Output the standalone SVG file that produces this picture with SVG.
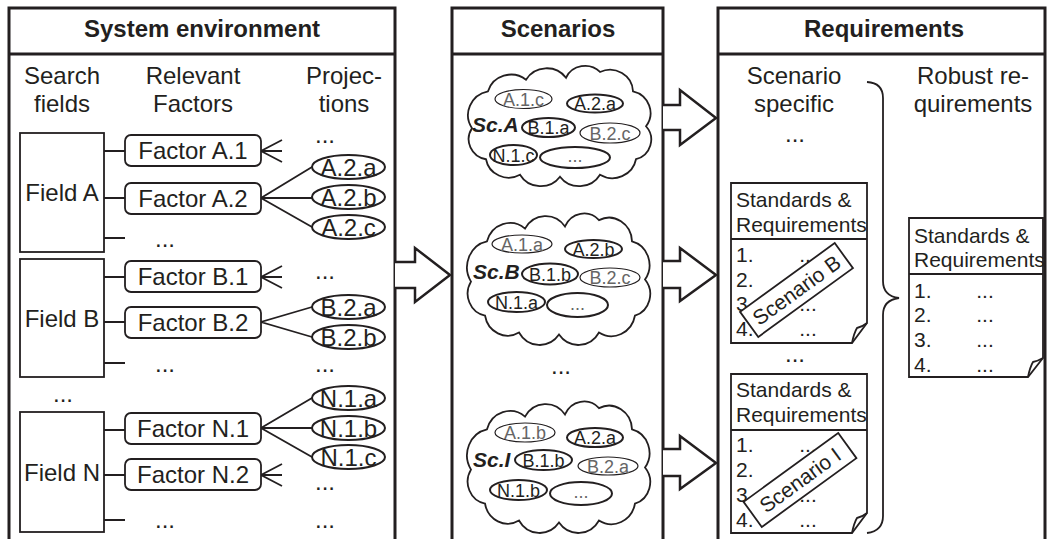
<svg xmlns="http://www.w3.org/2000/svg" width="1048" height="539" viewBox="0 0 1048 539">
<style>
text{font-family:"Liberation Sans",Arial,sans-serif;fill:#231f20}
.h{font-size:24px;font-weight:bold;text-anchor:middle}
.t{font-size:24px}
.m{text-anchor:middle}
.panel{fill:none;stroke:#231f20;stroke-width:3}
.box{fill:#fff;stroke:#231f20;stroke-width:1.8}
.ln{fill:none;stroke:#231f20;stroke-width:1.8}
.el{fill:#fff;stroke:#231f20;stroke-width:2}
.c{font-size:18px;text-anchor:middle}
.g{fill:#666}
.thin{stroke-width:1.2}
.sc{font-size:21px;font-weight:bold;font-style:italic}
.d{font-size:21px}
.arrow{fill:#fff;stroke:#231f20;stroke-width:2.5;stroke-linejoin:miter}
.cloud{fill:#fff;stroke:#231f20;stroke-width:1.8}
</style>
<defs>
<path id="cloudshape" d="M4,60 A25,25 0 0 1 20,22 A24,24 0 0 1 58,10 A24,24 0 0 1 98,8 A21,21 0 0 1 132,2 A23,23 0 0 1 165,22 A23,23 0 0 1 178,58 A21,21 0 0 1 168,92 A24,24 0 0 1 132,108 A24,24 0 0 1 92,110 A24,24 0 0 1 52,108 A23,23 0 0 1 18,92 A21,21 0 0 1 4,60 Z" vector-effect="non-scaling-stroke"/>
</defs>
<rect width="1048" height="539" fill="#fff"/>

<!-- Panels -->
<g id="panel-system">
<path class="panel" d="M9,539 V8 H395 V539 M9,54 H395"/>
<text class="h" x="202" y="37">System environment</text>
<text class="t m" x="62" y="84">Search</text>
<text class="t m" x="62" y="112">fields</text>
<text class="t m" x="193" y="84">Relevant</text>
<text class="t m" x="193" y="112">Factors</text>
<text class="t m" x="344" y="84">Projec-</text>
<text class="t m" x="344" y="112">tions</text>
</g>
<g id="panel-scenarios">
<path class="panel" d="M452,539 V8 H663 V539 M452,54 H663"/>
<text class="h" x="558" y="37">Scenarios</text>
<text class="t m" x="561" y="374">...</text>
</g>
<g id="panel-requirements">
<path class="panel" d="M718,539 V8 H1045 V539 M718,54 H1045"/>
<text class="h" x="884" y="37">Requirements</text>
<text class="t m" x="794" y="84">Scenario</text>
<text class="t m" x="794" y="112">specific</text>
<text class="t m" x="795" y="142">...</text>
<text class="t m" x="973" y="84">Robust re-</text>
<text class="t m" x="973" y="112">quirements</text>
<text class="t m" x="795" y="362">...</text>
</g>

<!-- Connectors -->
<g id="connectors">
<path class="ln" d="M104,151 H125 M104,198 H125 M104,238 H125"/>
<path class="ln" d="M104,277 H125 M104,322 H125 M104,363 H125"/>
<path class="ln" d="M104,430 H125 M104,475 H125 M104,520 H125"/>
<path class="ln" d="M282,140 L261,151 L282,162 M261,151 H282"/>
<path class="ln" d="M312,167 L261,198 L312,227 M261,198 H312"/>
<path class="ln" d="M282,266 L261,277 L282,288 M261,277 H282"/>
<path class="ln" d="M312,307 L261,322 L312,337"/>
<path class="ln" d="M312,398 L261,428 L312,457 M261,428 H312"/>
<path class="ln" d="M282,464 L261,475 L282,486 M261,475 H282"/>
<polyline class="arrow" points="395,262 415,262 415,248 450,275 415,302 415,288 395,288"/>
<polyline class="arrow" points="663,105 680,105 680,90 716,118 680,145 680,130 663,130"/>
<polyline class="arrow" points="663,261 680,261 680,248 716,275 680,301 680,288 663,288"/>
<polyline class="arrow" points="663,449 680,449 680,436 716,463 680,489 680,476 663,476"/>
<path class="ln" d="M867,82 Q883,83 883,98 V281 Q883,296 899,298 Q883,300 883,315 V516 Q883,531 867,533"/>
</g>

<!-- Search fields -->
<g id="field-a">
<rect class="box" x="20" y="133" width="84" height="119"/>
<text class="t m" x="62" y="201">Field A</text>
</g>
<g id="field-b">
<rect class="box" x="20" y="259" width="84" height="118"/>
<text class="t m" x="62" y="327">Field B</text>
</g>
<text class="t m" x="63" y="402">...</text>
<g id="field-n">
<rect class="box" x="20" y="412" width="84" height="120"/>
<text class="t m" x="62" y="481">Field N</text>
</g>

<!-- Factors -->
<g id="factor-a1"><rect class="box" x="125" y="135" width="136" height="31" rx="6"/><text class="t m" x="193" y="159">Factor A.1</text></g>
<g id="factor-a2"><rect class="box" x="125" y="183" width="136" height="31" rx="6"/><text class="t m" x="193" y="207">Factor A.2</text></g>
<text class="t m" x="165" y="247">...</text>
<g id="factor-b1"><rect class="box" x="125" y="261" width="136" height="31" rx="6"/><text class="t m" x="193" y="285">Factor B.1</text></g>
<g id="factor-b2"><rect class="box" x="125" y="307" width="136" height="31" rx="6"/><text class="t m" x="193" y="331">Factor B.2</text></g>
<text class="t m" x="165" y="372">...</text>
<g id="factor-n1"><rect class="box" x="125" y="413" width="136" height="31" rx="6"/><text class="t m" x="193" y="437">Factor N.1</text></g>
<g id="factor-n2"><rect class="box" x="125" y="459" width="136" height="31" rx="6"/><text class="t m" x="193" y="483">Factor N.2</text></g>
<text class="t m" x="165" y="528">...</text>

<!-- Projections -->
<text class="t m" x="325" y="143">...</text>
<g id="proj-a2a"><ellipse class="el" cx="348.5" cy="167" rx="36.5" ry="12"/><text class="t m" x="348.5" y="176">A.2.a</text></g>
<g id="proj-a2b"><ellipse class="el" cx="348.5" cy="197" rx="36.5" ry="12"/><text class="t m" x="348.5" y="206">A.2.b</text></g>
<g id="proj-a2c"><ellipse class="el" cx="348.5" cy="227" rx="36.5" ry="12"/><text class="t m" x="348.5" y="236">A.2.c</text></g>
<text class="t m" x="325" y="279">...</text>
<g id="proj-b2a"><ellipse class="el" cx="348.5" cy="307" rx="36.5" ry="12"/><text class="t m" x="348.5" y="316">B.2.a</text></g>
<g id="proj-b2b"><ellipse class="el" cx="348.5" cy="337" rx="36.5" ry="12"/><text class="t m" x="348.5" y="346">B.2.b</text></g>
<text class="t m" x="325" y="372">...</text>
<g id="proj-n1a"><ellipse class="el" cx="348.5" cy="398" rx="36.5" ry="12"/><text class="t m" x="348.5" y="407">N.1.a</text></g>
<g id="proj-n1b"><ellipse class="el" cx="348.5" cy="428" rx="36.5" ry="12"/><text class="t m" x="348.5" y="437">N.1.b</text></g>
<g id="proj-n1c"><ellipse class="el" cx="348.5" cy="457" rx="36.5" ry="12"/><text class="t m" x="348.5" y="466">N.1.c</text></g>
<text class="t m" x="325" y="490">...</text>
<text class="t m" x="325" y="528">...</text>

<!-- Scenario clouds -->
<g id="scenario-a">
<use href="#cloudshape" class="cloud" transform="translate(468,70) scale(1,0.97)"/>
<ellipse class="el thin" cx="523.5" cy="99" rx="28.5" ry="9.5"/><text class="c g" x="523.5" y="105.5">A.1.c</text>
<ellipse class="el" cx="595" cy="103.5" rx="28" ry="9"/><text class="c" x="595" y="110">A.2.a</text>
<text class="sc" x="472" y="132">Sc.A</text>
<ellipse class="el" cx="548.5" cy="127.5" rx="26.5" ry="9.5"/><text class="c" x="548.5" y="134">B.1.a</text>
<ellipse class="el thin" cx="610" cy="133" rx="30" ry="10"/><text class="c g" x="610" y="139.5">B.2.c</text>
<ellipse class="el" cx="513.5" cy="155" rx="23.5" ry="10"/><text class="c" x="513.5" y="161.5">N.1.c</text>
<ellipse class="el" cx="575" cy="157.5" rx="35" ry="10.5"/><text class="c g" x="575" y="162">...</text>
</g>
<g id="scenario-b">
<use href="#cloudshape" class="cloud" transform="translate(467,218) scale(1,1.06)"/>
<ellipse class="el thin" cx="522" cy="244" rx="30" ry="9"/><text class="c g" x="522" y="250.5">A.1.a</text>
<ellipse class="el" cx="593.5" cy="249" rx="28.5" ry="9"/><text class="c" x="593.5" y="255.5">A.2.b</text>
<text class="sc" x="473" y="279">Sc.B</text>
<ellipse class="el" cx="550" cy="274" rx="28" ry="10.5"/><text class="c" x="550" y="280.5">B.1.b</text>
<ellipse class="el thin" cx="610" cy="277.5" rx="30" ry="9.5"/><text class="c g" x="610" y="284">B.2.c</text>
<ellipse class="el" cx="516.5" cy="302" rx="28.5" ry="10"/><text class="c" x="516.5" y="308.5">N.1.a</text>
<ellipse class="el" cx="577.5" cy="305" rx="30.5" ry="12"/><text class="c g" x="577.5" y="309.5">...</text>
</g>
<g id="scenario-i">
<use href="#cloudshape" class="cloud" transform="translate(467,406) scale(1,1.06)"/>
<ellipse class="el thin" cx="525" cy="432.5" rx="30" ry="9.5"/><text class="c g" x="525" y="439">A.1.b</text>
<ellipse class="el" cx="595" cy="437.5" rx="28" ry="9.5"/><text class="c" x="595" y="444">A.2.a</text>
<text class="sc" x="473" y="467">Sc.I</text>
<ellipse class="el" cx="543.5" cy="460" rx="28.5" ry="10"/><text class="c" x="543.5" y="466.5">B.1.b</text>
<ellipse class="el thin" cx="608" cy="466" rx="30" ry="9"/><text class="c g" x="608" y="472.5">B.2.a</text>
<ellipse class="el" cx="518.5" cy="490" rx="28.5" ry="10"/><text class="c" x="518.5" y="496.5">N.1.b</text>
<ellipse class="el" cx="581" cy="493.5" rx="31" ry="11.5"/><text class="c g" x="581" y="498">...</text>
</g>

<!-- Requirement documents -->
<g id="doc-scenario-b">
<path class="box" d="M731,183 H867 V323 L852,343 H731 Z M731,239 H867"/>
<path class="ln" d="M852,343 Q854,333 857,328 Q862,327 867,323"/>
<text class="d" x="736" y="207">Standards &amp;</text>
<text class="d" x="736" y="232">Requirements</text>
<text class="d" x="736" y="262">1.</text><text class="d m" x="808" y="262">...</text>
<text class="d" x="736" y="287">2.</text><text class="d m" x="808" y="287">...</text>
<text class="d" x="736" y="311">3.</text><text class="d m" x="808" y="311">...</text>
<text class="d" x="736" y="336">4.</text><text class="d m" x="808" y="336">...</text>
<g transform="translate(796.5,290) rotate(-36)">
<rect x="-58.5" y="-15.5" width="117" height="31" fill="#fff" stroke="#231f20" stroke-width="1.8"/>
<text class="d m" x="0" y="7.5">Scenario B</text>
</g>
</g>
<g id="doc-scenario-i">
<path class="box" d="M731,374 H867 V513 L852,533 H731 Z M731,430 H867"/>
<path class="ln" d="M852,533 Q854,523 857,518 Q862,517 867,513"/>
<text class="d" x="736" y="397">Standards &amp;</text>
<text class="d" x="736" y="422">Requirements</text>
<text class="d" x="736" y="452">1.</text><text class="d m" x="808" y="452">...</text>
<text class="d" x="736" y="477">2.</text><text class="d m" x="808" y="477">...</text>
<text class="d" x="736" y="502">3.</text><text class="d m" x="808" y="502">...</text>
<text class="d" x="736" y="527">4.</text><text class="d m" x="808" y="527">...</text>
<g transform="translate(800,480) rotate(-36)">
<rect x="-58.5" y="-15.5" width="117" height="31" fill="#fff" stroke="#231f20" stroke-width="1.8"/>
<text class="d m" x="0" y="7.5">Scenario I</text>
</g>
</g>
<g id="doc-robust">
<path class="box" d="M909,218 H1043 V358 L1028,377 H909 Z M909,274 H1043"/>
<path class="ln" d="M1028,377 Q1030,367 1033,362 Q1038,361 1043,358"/>
<text class="d" x="914" y="243">Standards &amp;</text>
<text class="d" x="914" y="267">Requirements</text>
<text class="d" x="914" y="298">1.</text><text class="d m" x="985" y="298">...</text>
<text class="d" x="914" y="322">2.</text><text class="d m" x="985" y="322">...</text>
<text class="d" x="914" y="347">3.</text><text class="d m" x="985" y="347">...</text>
<text class="d" x="914" y="372">4.</text><text class="d m" x="985" y="372">...</text>
</g>
</svg>
